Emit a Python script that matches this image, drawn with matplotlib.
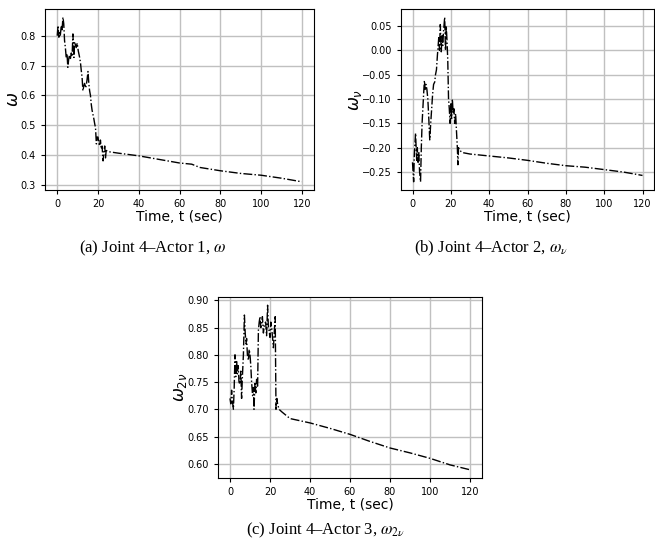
import numpy as np
import matplotlib
matplotlib.use("Agg")
import matplotlib.pyplot as plt

# Joint 4 - Actor 1, omega
t_a = [0, 0.4, 0.8, 1.1, 1.5, 2.0, 2.4, 2.8, 3.2, 3.6, 4.0, 4.4, 4.8, 5.2, 5.6, 6.0,
       6.4, 6.9, 7.3, 7.7, 8.0, 8.2, 8.5, 8.9, 9.3, 9.8, 10.3, 11.0, 11.4, 11.8, 12.2,
       12.6, 13.0, 13.4, 14.0, 14.6, 15.1, 15.5, 15.9, 16.3, 16.7, 17.1, 17.5, 18.0,
       18.4, 18.8, 19.2, 19.6, 20.0, 20.4, 20.8, 21.2, 21.6, 22.0, 22.5, 22.9, 23.3,
       23.7, 24.0, 26, 30, 40, 50, 60, 66, 70, 80, 90, 100, 110, 120]
w_a = [0.80, 0.834, 0.795, 0.81, 0.80, 0.835, 0.82, 0.862, 0.84, 0.783, 0.76, 0.727,
       0.74, 0.694, 0.72, 0.735, 0.72, 0.742, 0.73, 0.806, 0.75, 0.727, 0.78, 0.77,
       0.76, 0.775, 0.75, 0.727, 0.71, 0.683, 0.66, 0.615, 0.63, 0.64, 0.625, 0.65,
       0.68, 0.64, 0.615, 0.60, 0.57, 0.55, 0.537, 0.52, 0.504, 0.49, 0.437, 0.46,
       0.46, 0.44, 0.43, 0.45, 0.42, 0.43, 0.38, 0.41, 0.43, 0.39, 0.415, 0.41,
       0.406, 0.397, 0.385, 0.373, 0.369, 0.358, 0.347, 0.338, 0.332, 0.322, 0.31]

# Joint 4 - Actor 2, omega_nu
t_b = [0, 0.3, 0.6, 0.9, 1.3, 1.6, 1.9, 2.2, 2.5, 2.9, 3.3, 3.7, 4.2, 4.6, 5.0, 5.4,
       5.8, 6.2, 6.6, 7.0, 7.5, 8.0, 8.5, 9.0, 9.5, 10.0, 10.5, 11.0, 11.6, 12.0,
       12.5, 13.0, 13.7, 14.1, 14.5, 15.0, 15.4, 15.8, 16.2, 16.8, 17.2, 17.6, 18.0,
       18.4, 18.8, 19.2, 19.6, 20.0, 20.4, 20.8, 21.2, 21.6, 22.0, 22.5, 23.0, 23.4,
       23.7, 24.0, 24.5, 26, 30, 40, 50, 60, 70, 80, 90, 100, 110, 120]
w_b = [-0.23, -0.25, -0.27, -0.22, -0.19, -0.17, -0.20, -0.226, -0.20, -0.23, -0.21,
       -0.25, -0.27, -0.20, -0.15, -0.12, -0.09, -0.062, -0.08, -0.07, -0.08, -0.10,
       -0.14, -0.184, -0.15, -0.12, -0.09, -0.07, -0.065, -0.05, -0.04, -0.01, 0.026,
       0.0, 0.053, -0.003, 0.03, 0.01, 0.04, 0.068, 0.0, 0.05, 0.02, -0.02, -0.10,
       -0.12, -0.15, -0.11, -0.14, -0.10, -0.13, -0.12, -0.15, -0.13, -0.17, -0.20,
       -0.235, -0.20, -0.205, -0.21, -0.213, -0.217, -0.221, -0.226, -0.232, -0.237,
       -0.24, -0.245, -0.25, -0.257]

# Joint 4 - Actor 3, omega_2nu
t_c = [0, 0.4, 0.8, 1.2, 1.7, 2.1, 2.5, 2.9, 3.3, 3.7, 4.1, 4.5, 5.0, 5.4, 5.8, 6.2,
       6.7, 7.2, 7.6, 8.0, 8.3, 8.7, 9.2, 9.6, 10.0, 10.4, 10.8, 11.3, 11.7, 12.0,
       12.5, 12.9, 13.3, 13.8, 14.2, 14.6, 15.0, 15.4, 15.8, 16.2, 16.7, 17.2, 17.8,
       18.3, 18.8, 19.2, 19.5, 20.0, 20.4, 20.8, 21.2, 21.7, 22.2, 22.6, 23.0, 23.4,
       23.8, 24.5, 26, 30, 40, 50, 60, 70, 80, 90, 100, 110, 120]
w_c = [0.72, 0.71, 0.735, 0.715, 0.70, 0.74, 0.80, 0.76, 0.79, 0.765, 0.78, 0.75,
       0.746, 0.77, 0.72, 0.76, 0.80, 0.873, 0.84, 0.82, 0.83, 0.80, 0.79, 0.81,
       0.80, 0.78, 0.75, 0.725, 0.74, 0.70, 0.75, 0.73, 0.755, 0.74, 0.845, 0.86,
       0.87, 0.85, 0.855, 0.87, 0.84, 0.855, 0.86, 0.835, 0.891, 0.85, 0.845, 0.832,
       0.86, 0.85, 0.835, 0.813, 0.845, 0.87, 0.70, 0.72, 0.71, 0.70, 0.695, 0.683,
       0.675, 0.665, 0.654, 0.641, 0.629, 0.62, 0.61, 0.598, 0.589]

W, H = 655, 548
fig = plt.figure(figsize=(W / 100, H / 100), dpi=100)


def box(left, top, right, bottom):
    return [left / W, 1 - bottom / H, (right - left) / W, (bottom - top) / H]


panels = [
    (box(45, 9, 314, 190), t_a, w_a, r'$\omega$'),
    (box(401, 9, 654, 190), t_b, w_b, r'$\omega_\nu$'),
    (box(218, 297, 482, 478), t_c, w_c, r'$\omega_{2\nu}$'),
]

for rect, t, w, lab in panels:
    ax = fig.add_axes(rect)
    ax.plot(t, w, color='black', linestyle='-.', linewidth=1.0)
    ax.set_xticks([0, 20, 40, 60, 80, 100, 120])
    ax.grid(True, color='#c0c0c0', linewidth=1.0)
    ax.set_axisbelow(True)
    ax.tick_params(labelsize=7, length=3)
    ax.set_xlabel('Time, t (sec)', fontsize=10, labelpad=1)
    ax.set_ylabel(lab, fontsize=12, labelpad=-1)

captions = [
    (153, 248, r'(a) Joint 4–Actor 1, $\omega$'),
    (491, 248, r'(b) Joint 4–Actor 2, $\omega_\nu$'),
    (325, 530, r'(c) Joint 4–Actor 3, $\omega_{2\nu}$'),
]
for x, y, s in captions:
    fig.text(x / W, 1 - y / H, s, ha='center', va='center', fontsize=12,
             family='Liberation Serif', math_fontfamily='stix')

fig.savefig('out.png', dpi=100)
